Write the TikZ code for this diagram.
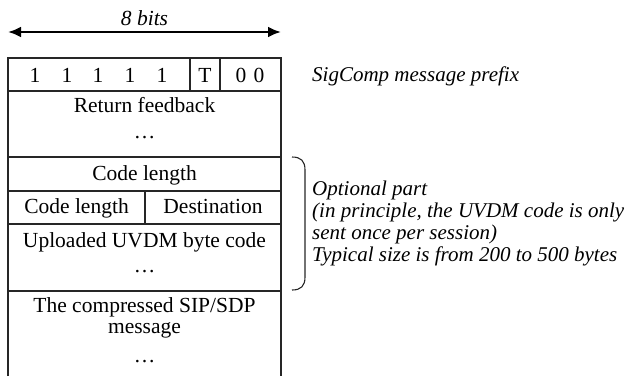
\documentclass[tikz,border=0pt]{standalone}
\usepackage{fontspec}
\setmainfont{Liberation Serif}
\usetikzlibrary{arrows.meta}
\begin{document}
\begin{tikzpicture}[x=1pt,y=-1pt,
  font=\fontsize{21.5}{22}\selectfont,
  txt/.style={inner sep=0pt, anchor=base},
  note/.style={inner sep=0pt, anchor=base west, font=\fontsize{21}{22}\selectfont\itshape},
  gridline/.style={line width=1.1pt, draw=black!85},
  widtharrow/.style={line width=2.6pt, {Latex[length=13pt,width=11pt]}-{Latex[length=13pt,width=11pt]}},
  bracket/.style={line width=1.1pt, draw=black!85}]
\useasboundingbox (0,0) rectangle (631,376);

% width arrow
\coordinate (aL) at (8,32);
\coordinate (aR) at (281,32);
\draw[widtharrow] (aL) -- (aR);
\node[txt, font=\fontsize{21.5}{22}\selectfont\itshape] (bits) at (144.5,25) {8 bits};

% frame
\coordinate (bl) at (8,376);
\coordinate (tl) at (8,58);
\coordinate (tr) at (281,58);
\coordinate (br) at (281,376);
\draw[gridline] (bl) -- (tl) -- (tr) -- (br);
\foreach \y in {91,157,191,224,291} \draw[gridline] (8,\y) -- (281,\y);
\draw[gridline] (190,58) -- (190,91);
\draw[gridline] (220,58) -- (220,91);
\draw[gridline] (145,191) -- (145,224);

% row 1
\node[txt] (b1) at (35,82) {1};
\node[txt] (b2) at (67,82) {1};
\node[txt] (b3) at (98,82) {1};
\node[txt] (b4) at (130,82) {1};
\node[txt] (b5) at (162,82) {1};
\node[txt] (bT) at (205,82) {T};
\node[txt] (b7) at (241,82) {0};
\node[txt] (b8) at (259,82) {0};

\node[txt] (rf) at (144.5,112) {Return feedback};
\node[txt] (rfd) at (144.5,138) {\dots};
\node[txt] (cl) at (144.5,180) {Code length};
\node[txt] (cl2) at (76.5,213) {Code length};
\node[txt] (dest) at (213,213) {Destination};
\node[txt] (up) at (144.5,247) {Uploaded UVDM byte code};
\node[txt] (upd) at (144.5,272) {\dots};
\node[txt] (sip) at (144.5,312) {The compressed SIP/SDP};
\node[txt] (sip2) at (144.5,333) {message};
\node[txt] (sipd) at (144.5,362) {\dots};

% notes
\node[note] (prefix) at (312,81) {SigComp message prefix};
\node[note] (opt1) at (312,195) {Optional part};
\node[note] (opt2) at (312,217) {(in principle, the UVDM code is only};
\node[note] (opt3) at (312,239) {sent once per session)};
\node[note] (opt4) at (312,261) {Typical size is from 200 to 500 bytes};

% bracket
\coordinate (brT) at (292,157);
\coordinate (brB) at (292,290);
\draw[bracket] (brT) .. controls (301,157) and (305,161) .. (305,170) -- (305,277) .. controls (305,286) and (301,290) .. (brB);
\end{tikzpicture}
\end{document}
